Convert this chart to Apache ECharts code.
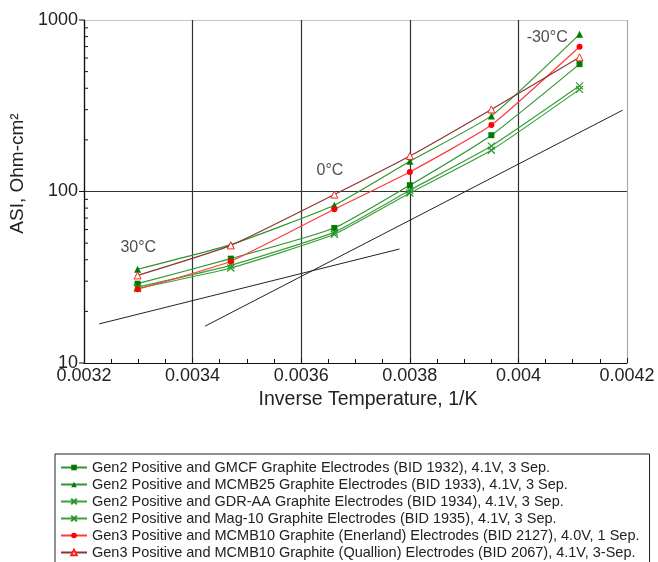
<!DOCTYPE html>
<html>
<head>
<meta charset="utf-8">
<script src="https://cdn.jsdelivr.net/npm/echarts@6/dist/echarts.min.js"></script>
<style>
  html, body { margin: 0; padding: 0; background: #fff; }
  #chart { width: 658px; height: 562px; }
</style>
</head>
<body>
<div id="chart"></div>
<script>
// Inverse temperature (1/K) for 30, 15, 0, -10, -20, -30 °C
const invTemp = [0.0032987, 0.0034704, 0.0036610, 0.0038001, 0.0039502, 0.0041126];

const seriesNames = [
  'Gen2 Positive and GMCF Graphite Electrodes (BID 1932), 4.1V, 3 Sep.',
  'Gen2 Positive and MCMB25 Graphite Electrodes (BID 1933), 4.1V, 3 Sep.',
  'Gen2 Positive and GDR-AA Graphite Electrodes (BID 1934), 4.1V, 3 Sep.',
  'Gen2 Positive and Mag-10 Graphite Electrodes (BID 1935), 4.1V, 3 Sep.',
  'Gen3 Positive and MCMB10 Graphite (Enerland) Electrodes (BID 2127), 4.0V, 1 Sep.',
  'Gen3 Positive and MCMB10 Graphite (Quallion) Electrodes (BID 2067), 4.1V, 3-Sep.'
];

// ASI, Ohm-cm2
const asiGMCF     = [29.0, 40.6, 61.3, 108.8, 213, 553];
const asiMCMB25   = [35.2, 49.0, 83.1, 150, 276, 825];
const asiGDRAA    = [27.7, 37.1, 58.0, 101.7, 184, 413];
const asiMag10    = [27.2, 35.8, 56.3, 98.0, 174, 394];
const asiEnerland = [26.9, 39.2, 78.8, 130, 244, 698];
const asiQuallion = [32.4, 48.5, 96.0, 161, 301, 606];

// Two straight guide lines (endpoints)
const guide1X = [0.003228, 0.003781];
const guide1Y = [16.9, 46.2];
const guide2X = [0.003423, 0.004192];
const guide2Y = [16.4, 298];

// Temperature annotations
const noteText = ['30°C', '0°C', '-30°C'];
const noteX = [0.0033, 0.003653, 0.004053];
const noteY = [47.3, 133, 785];

// Axis ticks
const xTicks = [0.0032, 0.0034, 0.0036, 0.0038, 0.004, 0.0042];
const yMajorTicks = [10, 100, 1000];
const yMinorTicks = [20, 30, 40, 50, 60, 70, 80, 90, 200, 300, 400, 500, 600, 700, 800, 900];

const FONT = '"Liberation Sans", Arial, sans-serif';
const crossPath = 'path://M0,0L10,10M10,0L0,10';

function pairs(xs, ys) { return xs.map((x, i) => [x, ys[i]]); }

function lineSeries(name, values, lineColor, symbol, symbolSize, itemStyle) {
  return {
    name: name,
    type: 'line',
    data: pairs(invTemp, values),
    smooth: 0.15,
    symbol: symbol,
    symbolSize: symbolSize,
    lineStyle: { color: lineColor, width: 1.2 },
    itemStyle: itemStyle,
    emphasis: { disabled: true },
    z: 3
  };
}

// Tick marks along the ASI axis: majors point outward, minors point into the plot
function yTickSeries(values, dx) {
  return {
    type: 'custom',
    data: values.map(v => [xTicks[0], v]),
    silent: true,
    clip: false,
    renderItem: function (params, api) {
      const p = api.coord([api.value(0), api.value(1)]);
      return {
        type: 'line',
        shape: { x1: p[0], y1: p[1], x2: p[0] + dx, y2: p[1] },
        style: { stroke: '#111', lineWidth: 1 }
      };
    },
    z: 5
  };
}

const chart = echarts.init(document.getElementById('chart'), null, { renderer: 'canvas' });

const option = {
  backgroundColor: '#ffffff',
  animation: false,
  grid: { left: 84, right: 31, top: 20, bottom: 199 },
  xAxis: {
    type: 'value',
    min: xTicks[0],
    max: xTicks[xTicks.length - 1],
    interval: 0.0002,
    name: 'Inverse Temperature, 1/K',
    nameLocation: 'middle',
    nameGap: 27,
    nameTextStyle: { fontFamily: FONT, fontSize: 19.5, color: '#222', padding: [0, 0, 0, 25] },
    axisLine: { onZero: false, lineStyle: { color: '#111', width: 1.2 } },
    axisTick: { inside: true, length: 5, lineStyle: { color: '#111' } },
    minorTick: { show: true, splitNumber: 4, length: 4, lineStyle: { color: '#111' } },
    axisLabel: {
      fontFamily: FONT, fontSize: 18, color: '#222', margin: 4,
      formatter: v => String(+v.toFixed(4)),
      showMinLabel: true, showMaxLabel: true
    },
    splitLine: {
      show: true,
      lineStyle: { color: ['#333', '#333', '#333', '#333', '#333', '#aaa'], width: 1.2 }
    }
  },
  yAxis: {
    type: 'log',
    logBase: 10,
    min: 10,
    max: 1000,
    name: 'ASI, Ohm-cm²',
    nameLocation: 'middle',
    nameGap: 34,
    nameTextStyle: { fontFamily: FONT, fontSize: 19, color: '#222', padding: [0, 0, 0, 36] },
    axisLine: { show: true, lineStyle: { color: '#111', width: 1.2 } },
    axisTick: { show: false },
    minorTick: { show: false },
    axisLabel: {
      fontFamily: FONT, fontSize: 18, color: '#222', margin: 6,
      formatter: v => String(Math.round(v))
    },
    splitLine: { show: true, lineStyle: { color: ['#333', '#333', '#c4c4c4'], width: 1.2 } }
  },
  legend: {
    data: seriesNames,
    orient: 'vertical',
    left: 55,
    top: 454,
    height: 200,
    itemGap: 2,
    itemWidth: 26,
    itemHeight: 7,
    padding: [6, 10, 6, 5],
    borderColor: '#222',
    borderWidth: 1,
    backgroundColor: '#fff',
    textStyle: { fontFamily: FONT, fontSize: 14.5, color: '#222' }
  },
  series: [
    lineSeries(seriesNames[0], asiGMCF, '#2f952f', 'rect', 6, { color: '#007a00' }),
    lineSeries(seriesNames[1], asiMCMB25, '#2f952f', 'triangle', 7, { color: '#007a00' }),
    lineSeries(seriesNames[2], asiGDRAA, '#3aa03a', crossPath, 7, { color: 'rgba(0,0,0,0)', borderColor: '#2a962a', borderWidth: 1.2 }),
    lineSeries(seriesNames[3], asiMag10, '#3aa03a', crossPath, 7, { color: 'rgba(0,0,0,0)', borderColor: '#2a962a', borderWidth: 1.2 }),
    lineSeries(seriesNames[4], asiEnerland, '#ff3b3b', 'circle', 6, { color: '#ff0000' }),
    lineSeries(seriesNames[5], asiQuallion, '#8e3434', 'triangle', 7, { color: '#ffffff', borderColor: '#ff2020', borderWidth: 1 }),
    {
      type: 'line', data: pairs(guide1X, guide1Y), symbol: 'none',
      lineStyle: { color: '#222', width: 1 }, silent: true, z: 2
    },
    {
      type: 'line', data: pairs(guide2X, guide2Y), symbol: 'none',
      lineStyle: { color: '#222', width: 1 }, silent: true, z: 2
    },
    {
      type: 'scatter',
      data: noteX.map((x, i) => ({ value: [x, noteY[i]], label: { formatter: noteText[i] } })),
      symbolSize: 0,
      silent: true,
      label: { show: true, position: 'inside', fontFamily: FONT, fontSize: 16, color: '#222' },
      z: 4
    },
    yTickSeries(yMajorTicks, -5),
    yTickSeries(yMinorTicks, 4)
  ]
};

chart.setOption(option);
</script>
</body>
</html>
